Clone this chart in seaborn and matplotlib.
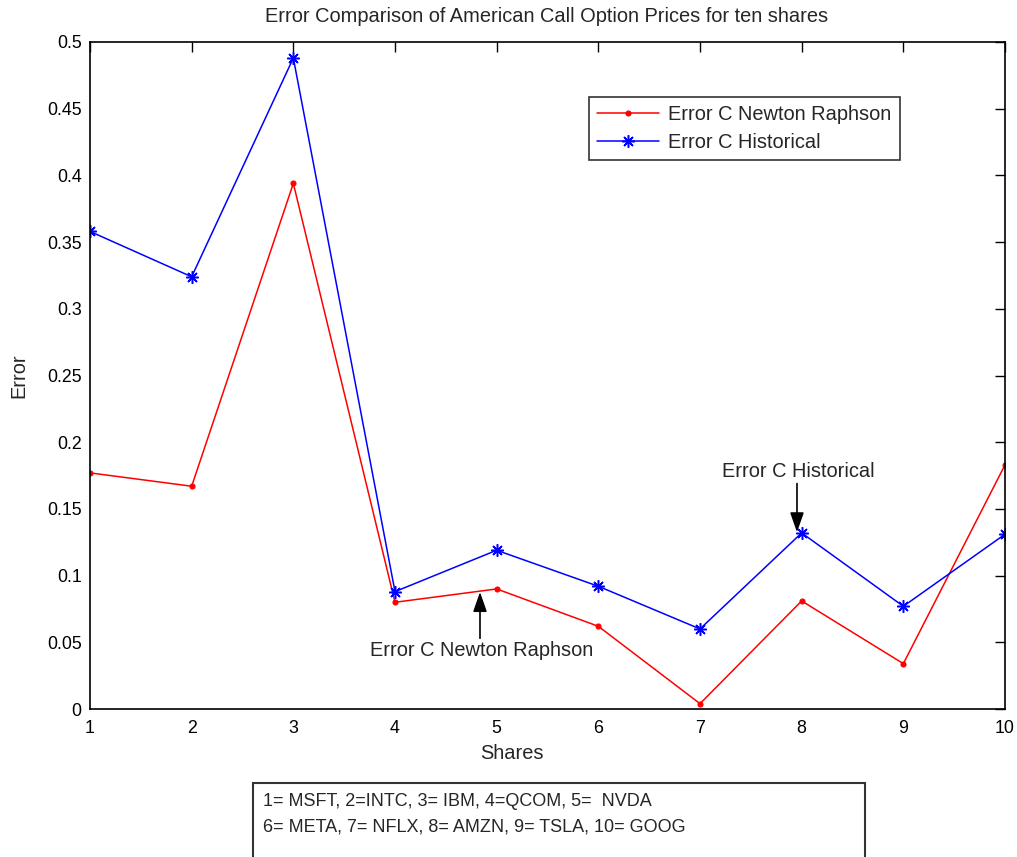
import numpy as np
import pandas as pd
import matplotlib
matplotlib.use("Agg")
import matplotlib.pyplot as plt
from matplotlib.patches import Rectangle
import seaborn as sns

# Share index and the pricing errors of each method
shares = [1, 2, 3, 4, 5, 6, 7, 8, 9, 10]
error_newton = [0.177, 0.167, 0.394, 0.080, 0.090, 0.062, 0.004, 0.081, 0.034, 0.183]
error_hist = [0.358, 0.324, 0.488, 0.088, 0.119, 0.092, 0.060, 0.132, 0.077, 0.131]
series_names = ["Error C Newton Raphson", "Error C Historical"]
ticker_key = ["1= MSFT, 2=INTC, 3= IBM, 4=QCOM, 5=  NVDA",
              "6= META, 7= NFLX, 8= AMZN, 9= TSLA, 10= GOOG"]
y_ticks = [0, 0.05, 0.1, 0.15, 0.2, 0.25, 0.3, 0.35, 0.4, 0.45, 0.5]

sns.set_style("white")
plt.rcParams["font.family"] = ["Liberation Sans", "DejaVu Sans"]
plt.rcParams["font.size"] = 12

fig = plt.figure(figsize=(10.17, 8.57), dpi=100)
ax = fig.add_axes([90 / 1017, 1 - 709 / 857, 915 / 1017, 667 / 857])

sns.lineplot(x=shares, y=error_newton, color="#ff0000", linewidth=1.1,
             marker="o", markersize=3.6, markeredgewidth=0.8,
             markeredgecolor="#ff0000", ax=ax, label=series_names[0])
sns.lineplot(x=shares, y=error_hist, color="#0000ff", linewidth=1.1,
             marker=(8, 2, 0), markersize=9, markeredgewidth=1.1,
             markeredgecolor="#0000ff", ax=ax, label=series_names[1])

ax.set_xlim(1, 10)
ax.set_ylim(0, 0.5)
ax.set_xticks(shares)
ax.set_yticks(y_ticks)
ax.set_yticklabels([f"{v:g}" for v in y_ticks])
ax.tick_params(direction="in", length=7, width=1, top=True, right=True,
               labelsize=12.8, colors="black")
ax.tick_params(axis="x", pad=8)
ax.tick_params(axis="y", pad=6)
for s in ax.spines.values():
    s.set_color("black")
    s.set_linewidth(1.2)

fig.text(547 / 1017, 1 - 17 / 857,
         "Error Comparison of American Call Option Prices for ten shares",
         ha="center", va="center", fontsize=14.4)
ax.set_xlabel("Shares", fontsize=14.4)
ax.set_ylabel("Error", fontsize=14.4)
ax.xaxis.set_label_coords(0.4607, -0.052)
ax.yaxis.set_label_coords(-0.0678, 0.5)

leg = ax.legend(loc="upper left",
                bbox_to_anchor=(0.5454, 0.9175), frameon=True, fancybox=False,
                edgecolor="black", fontsize=14.4, handlelength=3.1,
                borderpad=0.42, labelspacing=0.42, handletextpad=0.45,
                borderaxespad=0)
leg.get_frame().set_linewidth(1.2)

arrow = dict(arrowstyle="-|>,head_length=1.0,head_width=0.35", color="black",
             lw=1.2, shrinkA=0, shrinkB=0)
ax.annotate("", xy=(4.836, 0.0877), xytext=(4.836, 0.053), arrowprops=arrow)
ax.text(4.856, 0.0435, series_names[0], ha="center", va="center", fontsize=14.4)
ax.annotate("", xy=(7.954, 0.1325), xytext=(7.954, 0.169), arrowprops=arrow)
ax.text(7.97, 0.178, series_names[1], ha="center", va="center", fontsize=14.4)

# Key of the share numbers below the axes
fig.patches.append(Rectangle((253 / 1017, -0.05), 612 / 1017, 0.05 + 74 / 857,
                             transform=fig.transFigure, fill=False,
                             edgecolor="#333333", linewidth=1.5))
fig.text(263 / 1017, 1 - 801 / 857, ticker_key[0], ha="left", va="center",
         fontsize=13)
fig.text(263 / 1017, 1 - 827 / 857, ticker_key[1], ha="left", va="center",
         fontsize=13)

fig.savefig("out.png", dpi=100)
